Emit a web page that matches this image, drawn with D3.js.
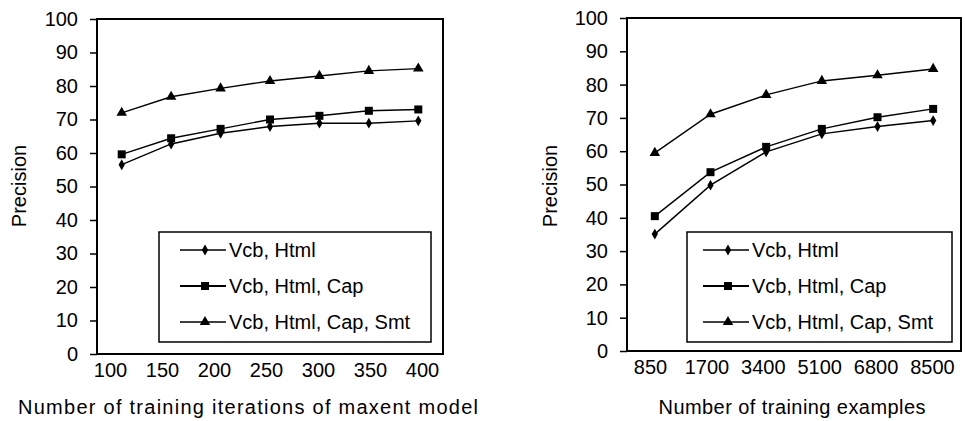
<!DOCTYPE html>
<html>
<head>
<meta charset="utf-8">
<script src="https://cdn.jsdelivr.net/npm/d3@7"></script>
<style>
  body { margin: 0; background: #fff; }
  svg { display: block; font-family: "Liberation Sans", Arial, sans-serif; }
</style>
</head>
<body>
<div id="chart"></div>
<script>
// series names shared by both panels
const seriesNames = ["Vcb, Html", "Vcb, Html, Cap", "Vcb, Html, Cap, Smt"];
const yTicks = [0, 10, 20, 30, 40, 50, 60, 70, 80, 90, 100];

// left panel: training iterations
const iterLabels = ["100", "150", "200", "250", "300", "350", "400"];
const iterVcbHtml = [56.5, 62.7, 65.9, 67.9, 68.9, 68.9, 69.6];
const iterVcbHtmlCap = [59.6, 64.4, 67.2, 70.0, 71.1, 72.6, 73.0];
const iterVcbHtmlCapSmt = [72.0, 76.8, 79.3, 81.5, 83.0, 84.5, 85.2];

// right panel: training examples
const exLabels = ["850", "1700", "3400", "5100", "6800", "8500"];
const exVcbHtml = [35.1, 49.8, 59.8, 65.2, 67.4, 69.2];
const exVcbHtmlCap = [40.5, 53.7, 61.3, 66.7, 70.2, 72.7];
const exVcbHtmlCapSmt = [59.5, 71.1, 76.9, 81.1, 82.8, 84.7];

const W = 965, H = 421;
const svg = d3.select("#chart").append("svg").attr("width", W).attr("height", H);

const symbols = [d3.symbolDiamond, d3.symbolSquare, d3.symbolTriangle];
const symSizes = [34, 64, 48];

function drawPanel(cfg) {
  let g = svg.append("g");

  let x = d3.scalePoint().domain(cfg.labels).range([cfg.left, cfg.right]).padding(0.5);
  let xLab = d3.scalePoint().domain(cfg.labels).range(cfg.labelRange);
  let y = d3.scaleLinear().domain([0, 100]).range([cfg.bottom, cfg.top]);

  // plot frame
  g.append("rect")
    .attr("x", cfg.left).attr("y", cfg.top)
    .attr("width", cfg.right - cfg.left).attr("height", cfg.bottom - cfg.top)
    .attr("fill", "none").attr("stroke", "#000").attr("stroke-width", 2);

  // y axis
  let yAxis = d3.axisLeft(y).tickValues(yTicks).tickSize(7).tickPadding(12);
  g.append("g")
    .attr("transform", "translate(" + cfg.left + ",0)")
    .call(yAxis)
    .call((a) => a.select(".domain").remove())
    .call((a) => a.selectAll("line").attr("stroke", "#000").attr("stroke-width", 1.5))
    .call((a) => a.selectAll("text").attr("font-size", 20).attr("fill", "#000").attr("font-family", null));

  // x axis labels
  let xAxis = d3.axisBottom(xLab).tickSize(0).tickPadding(9);
  g.append("g")
    .attr("transform", "translate(0," + cfg.bottom + ")")
    .call(xAxis)
    .call((a) => a.select(".domain").remove())
    .call((a) => a.selectAll("text").attr("font-size", 20).attr("fill", "#000").attr("font-family", null));

  // axis titles
  g.append("text")
    .attr("x", cfg.xTitleX).attr("y", 414)
    .attr("text-anchor", "middle").attr("font-size", 20)
    .attr("textLength", cfg.xTitleLen).attr("lengthAdjust", "spacing")
    .text(cfg.xTitle);
  g.append("text")
    .attr("transform", "translate(" + cfg.yTitleX + ",186) rotate(-90)")
    .attr("text-anchor", "middle").attr("font-size", 20)
    .text("Precision");

  let line = d3.line()
    .x((d, i) => x(cfg.labels[i]))
    .y((d) => y(d));

  cfg.series.forEach((vals, s) => {
    g.append("path")
      .datum(vals)
      .attr("d", line)
      .attr("fill", "none")
      .attr("stroke", "#000")
      .attr("stroke-width", 1.4);
    g.selectAll(".m" + s)
      .data(vals)
      .enter()
      .append("path")
      .attr("class", "m" + s)
      .attr("transform", (d, i) => "translate(" + x(cfg.labels[i]) + "," + y(d) + ")")
      .attr("d", d3.symbol().type(symbols[s]).size(symSizes[s]))
      .attr("fill", "#000");
  });

  // legend
  let lg = g.append("g");
  lg.append("rect")
    .attr("x", cfg.legend.x).attr("y", 232)
    .attr("width", cfg.legend.w).attr("height", 110)
    .attr("fill", "#fff").attr("stroke", "#000").attr("stroke-width", 1.5);
  seriesNames.forEach((name, s) => {
    let cy = 250 + s * 36;
    let x0 = cfg.legend.x + cfg.legend.pad;
    lg.append("line")
      .attr("x1", x0).attr("x2", x0 + 46)
      .attr("y1", cy).attr("y2", cy)
      .attr("stroke", "#000").attr("stroke-width", s == 1 ? 2 : 1.4);
    lg.append("path")
      .attr("transform", "translate(" + (x0 + 25) + "," + cy + ")")
      .attr("d", d3.symbol().type(symbols[s]).size(symSizes[s]))
      .attr("fill", "#000");
    lg.append("text")
      .attr("x", x0 + 49).attr("y", cy)
      .attr("dy", "0.36em")
      .attr("font-size", 20)
      .text(name);
  });
}

drawPanel({
  labels: iterLabels,
  series: [iterVcbHtml, iterVcbHtmlCap, iterVcbHtmlCapSmt],
  left: 97, right: 443, top: 19, bottom: 354,
  labelRange: [110, 422],
  xTitle: "Number of training iterations of maxent model",
  xTitleX: 248, xTitleLen: 460, yTitleX: 26,
  legend: { x: 159, w: 272, pad: 21 },
});

drawPanel({
  labels: exLabels,
  series: [exVcbHtml, exVcbHtmlCap, exVcbHtmlCapSmt],
  left: 627, right: 961, top: 18, bottom: 351,
  labelRange: [650, 932],
  xTitle: "Number of training examples",
  xTitleX: 792, xTitleLen: 267, yTitleX: 557,
  legend: { x: 687, w: 265, pad: 16 },
});
</script>
</body>
</html>
